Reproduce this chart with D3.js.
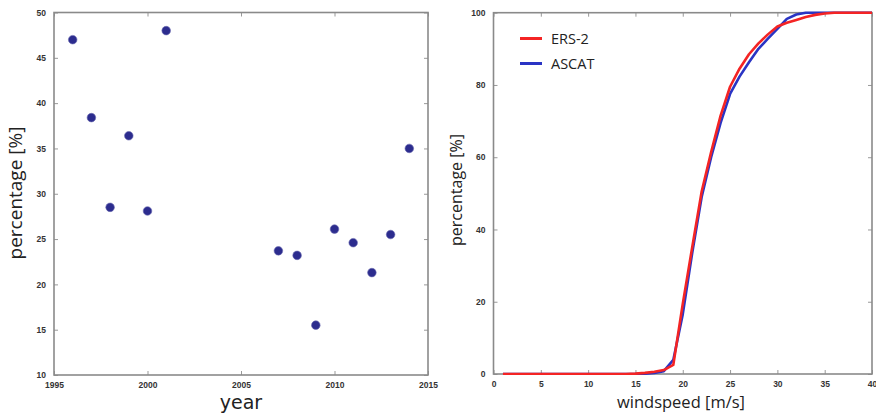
<!DOCTYPE html>
<html>
<head>
<meta charset="utf-8">
<script src="https://cdn.jsdelivr.net/npm/d3@7"></script>
<style>
  html, body { margin: 0; padding: 0; background: #fff; }
  svg { display: block; font-family: "Open Sans", "DejaVu Sans", sans-serif; }
  .tick text { fill: #333; font-size: 8.5px; font-weight: 600; }
  .frame { fill: none; stroke: #8a8a8a; stroke-width: 1.6; }
</style>
</head>
<body>
<svg id="chart" width="876" height="415"></svg>
<script>
// 左: 年ごとの割合
const years = [1996, 1997, 1998, 1999, 2000, 2001, 2007, 2008, 2009, 2010, 2011, 2012, 2013, 2014];
const yearPct = [47.0, 38.4, 28.5, 36.4, 28.1, 48.0, 23.7, 23.2, 15.5, 26.1, 24.6, 21.3, 25.5, 35.0];
const yearTicks = [1995, 2000, 2005, 2010, 2015];
const pctTicksLeft = [10, 15, 20, 25, 30, 35, 40, 45, 50];

// 右: 風速の累積分布
const windspeed = d3.range(1, 41);
const ers2 = [0, 0, 0, 0, 0, 0, 0, 0, 0, 0, 0, 0, 0, 0, 0.1, 0.3, 0.6, 1.1, 2.5, 19.4,
              35.1, 50.5, 61.4, 71.5, 79.5, 84.5, 88.5, 91.5, 94.0, 96.2,
              97.2, 98.0, 98.8, 99.4, 99.8, 100, 100, 100, 100, 100];
const ascat = [0, 0, 0, 0, 0, 0, 0, 0, 0, 0, 0, 0, 0, 0, 0, 0.1, 0.3, 0.8, 3.9, 16.5,
               33.5, 49.0, 60.0, 69.5, 77.5, 82.3, 86.3, 90.0, 92.8, 95.5,
               98.3, 99.5, 100, 100, 100, 100, 100, 100, 100, 100];
const windTicks = [0, 5, 10, 15, 20, 25, 30, 35, 40];
const pctTicksRight = [0, 20, 40, 60, 80, 100];
const seriesNames = ['ERS-2', 'ASCAT'];
const seriesColors = ['#f42424', '#2a34c4'];

const svg = d3.select('#chart');

// 枠と内向きの目盛りを描く
function drawFrame(g, x, y, xTicks, yTicks) {
    const [x0, x1] = x.range();
    const [y0, y1] = y.range();
    const tl = 4;
    g.append('g').attr('transform', `translate(0,${y0})`)
        .call(d3.axisBottom(x).tickValues(xTicks).tickFormat(d3.format('d')).tickSizeInner(-tl).tickSizeOuter(0).tickPadding(7))
        .call(a => a.select('.domain').remove());
    g.append('g').attr('transform', `translate(0,${y1})`)
        .call(d3.axisTop(x).tickValues(xTicks).tickSizeInner(-tl).tickSizeOuter(0).tickFormat(''))
        .call(a => a.select('.domain').remove());
    g.append('g').attr('transform', `translate(${x0},0)`)
        .call(d3.axisLeft(y).tickValues(yTicks).tickFormat(d3.format('d')).tickSizeInner(-tl).tickSizeOuter(0).tickPadding(8))
        .call(a => a.select('.domain').remove());
    g.append('g').attr('transform', `translate(${x1},0)`)
        .call(d3.axisRight(y).tickValues(yTicks).tickSizeInner(-tl).tickSizeOuter(0).tickFormat(''))
        .call(a => a.select('.domain').remove());
    g.selectAll('.tick line').attr('stroke', '#999').attr('stroke-width', 1);
    g.append('rect').attr('class', 'frame')
        .attr('x', x0).attr('y', y1).attr('width', x1 - x0).attr('height', y0 - y1);
}

// 左パネル
const xL = d3.scaleLinear().domain([1995, 2015]).range([54, 428]);
const yL = d3.scaleLinear().domain([10, 50]).range([375, 12.5]);
const gL = svg.append('g');
drawFrame(gL, xL, yL, yearTicks, pctTicksLeft);

gL.append('g').selectAll('circle')
    .data(years.map((d, i) => ({ year: d, pct: yearPct[i] })))
    .enter().append('circle')
    .attr('cx', d => xL(d.year))
    .attr('cy', d => yL(d.pct))
    .attr('r', 4.3)
    .attr('fill', '#2c2c8e')
    .attr('stroke', '#6a6ab0')
    .attr('stroke-width', 0.6);

// x軸ラベル（目盛りと重ならないよう少し下げる）
gL.append('text')
    .attr('x', 241).attr('y', 409)
    .attr('text-anchor', 'middle')
    .attr('font-family', '"DejaVu Sans", sans-serif')
    .attr('font-size', 19).attr('fill', '#222')
    .text('year');
gL.append('text')
    .attr('transform', 'translate(22,193) rotate(-90)')
    .attr('text-anchor', 'middle')
    .attr('font-size', 19).attr('fill', '#222')
    .text('percentage [%]');

// 右パネル
const xR = d3.scaleLinear().domain([0, 40]).range([493.5, 872]);
const yR = d3.scaleLinear().domain([0, 100]).range([374, 12.7]);
const gR = svg.append('g');
drawFrame(gR, xR, yR, windTicks, pctTicksRight);

const line = d3.line().x((d, i) => xR(windspeed[i])).y(d => yR(d));
gR.append('clipPath').attr('id', 'clipR')
    .append('rect').attr('x', 493.5).attr('y', 11).attr('width', 378.5).attr('height', 364);

// ASCAT を先に、ERS-2 を上に
[ascat, ers2].forEach((s, k) => {
    gR.append('path')
        .attr('d', line(s))
        .attr('fill', 'none')
        .attr('clip-path', 'url(#clipR)')
        .attr('stroke', seriesColors[1 - k])
        .attr('stroke-width', 2.6)
        .attr('stroke-linejoin', 'round');
});

// 凡例
const legend = gR.append('g');
seriesNames.forEach((name, i) => {
    const ly = 38.5 + i * 25;
    legend.append('line')
        .attr('x1', 520).attr('x2', 542).attr('y1', ly).attr('y2', ly)
        .attr('stroke', seriesColors[i]).attr('stroke-width', 3);
    legend.append('text')
        .attr('x', 551).attr('y', ly + 5)
        .attr('font-size', 14.5).attr('fill', '#222')
        .text(name);
});

gR.append('text')
    .attr('x', 681).attr('y', 408)
    .attr('text-anchor', 'middle')
    .attr('font-size', 16.5).attr('fill', '#222')
    .text('windspeed [m/s]');
gR.append('text')
    .attr('transform', 'translate(462,190) rotate(-90)')
    .attr('text-anchor', 'middle')
    .attr('font-size', 16).attr('fill', '#222')
    .text('percentage [%]');
</script>
</body>
</html>
